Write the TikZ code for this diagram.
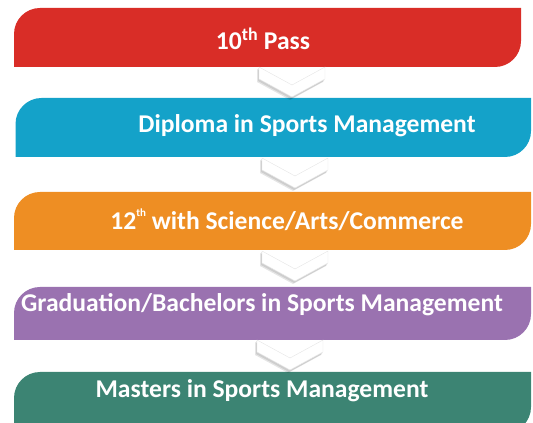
\documentclass[tikz,border=0pt]{standalone}
\usepackage{fontspec}
\setmainfont{Carlito}
\definecolor{cred}{HTML}{D92D27}
\definecolor{cblue}{HTML}{14A2C9}
\definecolor{corange}{HTML}{EE8E23}
\definecolor{cpurple}{HTML}{9A72B0}
\definecolor{cgreen}{HTML}{3C8473}
\newcommand\stagebox[5]{%
  \fill[#5] (#1,#4) -- (#1,#3-26) arc[start angle=180,end angle=90,radius=26pt]
    -- (#2,#3) -- (#2,#4+26) arc[start angle=0,end angle=-90,radius=26pt] -- cycle;}
\tikzset{
  x=1pt, y=1pt,
  lbl/.style={text=white, font=\bfseries\fontsize{25.6}{28}\selectfont, anchor=base, inner sep=0pt},
  chevshade/.style={fill=black, opacity=0.10},
  chevbody/.style={fill=white, draw=black!10, line width=0.4pt, line join=miter},
  chevron/.pic={
    \fill[chevshade] (-35,-2) -- (-2,-21) -- (31,-2) -- (31,-15) -- (-2,-33) -- (-35,-15) -- cycle;
    \fill[chevshade] (-34,-1) -- (-1,-20) -- (32,-1) -- (32,-14) -- (-1,-32) -- (-34,-14) -- cycle;
    \path[chevbody] (-33,0) -- (0,-18) -- (33,0) -- (33,-12) -- (0,-30) -- (-33,-12) -- cycle;
  }
}
\begin{document}
\begin{tikzpicture}
\useasboundingbox (0,0) rectangle (533,423);
\clip (0,0) rectangle (533,423);
\stagebox{14}{521}{415}{356}{cred}
\stagebox{15.5}{531}{325}{266}{cblue}
\stagebox{14}{531}{231}{173}{corange}
\stagebox{14}{531}{136}{83}{cpurple}
\stagebox{14}{531}{51}{-10}{cgreen}
\pic at (292,356) {chevron};
\pic at (295,265) {chevron};
\pic at (295,172) {chevron};
\pic at (290,83) {chevron};
\node[lbl] (t1) at (263,373) {10\textsuperscript{th} Pass};
\node[lbl] (t2) at (307,290) {Diploma in Sports Management};
\node[lbl] (t3) at (287,193) {12\raisebox{1.05ex}{\fontsize{11}{11}\selectfont th} with Science/Arts/Commerce};
\node[lbl] (t4) at (262,111) {Graduation/Bachelors in Sports Management};
\node[lbl] (t5) at (262,25) {Masters in Sports Management};
\end{tikzpicture}
\end{document}
